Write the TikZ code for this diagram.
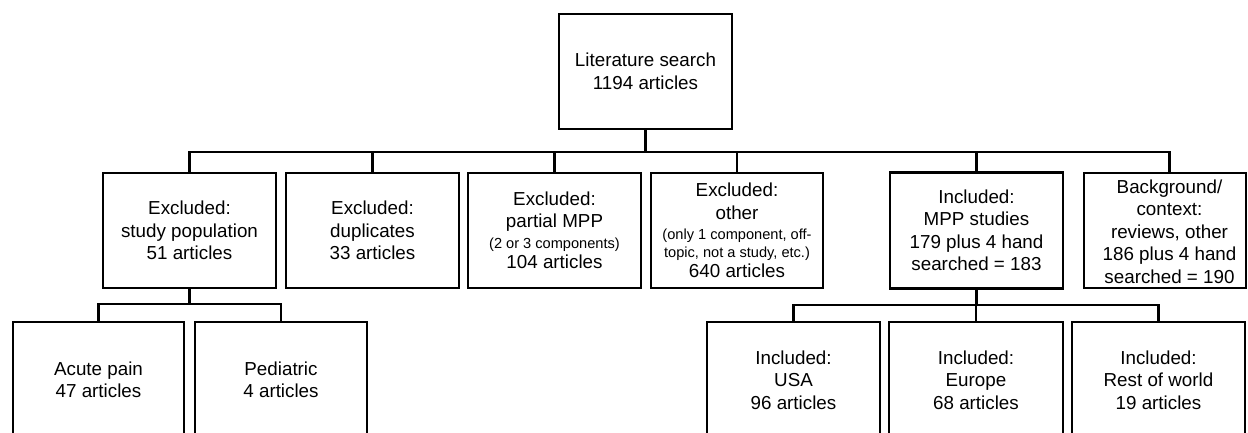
\documentclass[tikz,border=0pt]{standalone}
\usepackage{fontspec}
\setmainfont{Liberation Sans}
\begin{document}
\begin{tikzpicture}[x=1pt,y=-1pt,
  box/.style={draw, line width=1.2pt, rectangle, inner sep=0pt, align=center,
    font=\fontsize{18.8}{22.5}\selectfont},
  tbox/.style={box, line width=2.8pt},
  txt/.style={inner sep=0pt, align=center, font=\fontsize{18.8}{22.5}\selectfont},
  conn/.style={line width=2.5pt},
  sm/.style={}]
\clip (0,0) rectangle (1248,432);
\newcommand{\smalltxt}[1]{{\fontsize{14.6}{17.5}\selectfont #1}}
% top
\node[box, minimum width=173, minimum height=115] (top) at (645.5,71.5) {Literature search\\1194 articles};
% row 2
\node[box, minimum width=173, minimum height=115] (b1) at (189.5,230.5) {Excluded:\\study population\\51 articles};
\node[box, minimum width=173, minimum height=115] (b2) at (372.5,230.5) {Excluded:\\duplicates\\33 articles};
\node[box, minimum width=173, minimum height=115] (b3) at (554.5,230.5) {Excluded:\\partial MPP\\[-2pt]\smalltxt{(2 or 3 components)}\\[-2pt]104 articles};
\node[box, minimum width=172, minimum height=115] (b4) at (737,230.5) {Excluded:\\other\\[-2pt]\smalltxt{(only 1 component, off-}\\[-5pt]\smalltxt{topic, not a study, etc.)}\\[-2pt]640 articles};
\node[tbox, minimum width=173, minimum height=116] (b5) at (976.5,230.5) {Included:\\MPP studies\\179 plus 4 hand\\searched = 183};
\node[box, minimum width=162, minimum height=115] (b6) at (1165,230.5) {};
\node[txt] (b6t) at (1169.5,231.5) {Background/\\context:\\reviews, other\\186 plus 4 hand\\searched = 190};
% row 3
\node[box, minimum width=171, minimum height=116] (c1) at (98.5,380) {Acute pain\\47 articles};
\node[box, minimum width=172, minimum height=116] (c2) at (281,380) {Pediatric\\4 articles};
\node[tbox, minimum width=173, minimum height=116] (c3) at (793.5,380) {Included:\\USA\\96 articles};
\node[tbox, minimum width=174, minimum height=116] (c4) at (976,380) {Included:\\Europe\\68 articles};
\node[tbox, minimum width=173, minimum height=116] (c5) at (1158.5,380) {Included:\\Rest of world\\19 articles};
% connectors
\coordinate (bus) at (645.5,152);
\coordinate (busL) at (190,304);
\coordinate (busR) at (977,305);
\draw[conn, line width=3pt] (top.south) -- (top.south |- bus);
\draw[conn] (b1.north) -- (b1.north |- bus) -- (b6t |- bus) -- (b6t |- b6.north);
\draw[conn] (b2.north) -- (b2.north |- bus);
\draw[conn] (b3.north) -- (b3.north |- bus);
\draw[conn] (b4.north) -- (b4.north |- bus);
\draw[conn] (b5.north) -- (b5.north |- bus);
\draw[conn] (b1.south) -- (b1.south |- busL);
\draw[conn] (c1.north) -- (c1.north |- busL) -- (c2.north |- busL) -- (c2.north);
\draw[conn] (b5.south) -- (b5.south |- busR);
\draw[conn] (c3.north) -- (c3.north |- busR) -- (c5.north |- busR) -- (c5.north);
\draw[conn] (c4.north) -- (c4.north |- busR);
\end{tikzpicture}
\end{document}
